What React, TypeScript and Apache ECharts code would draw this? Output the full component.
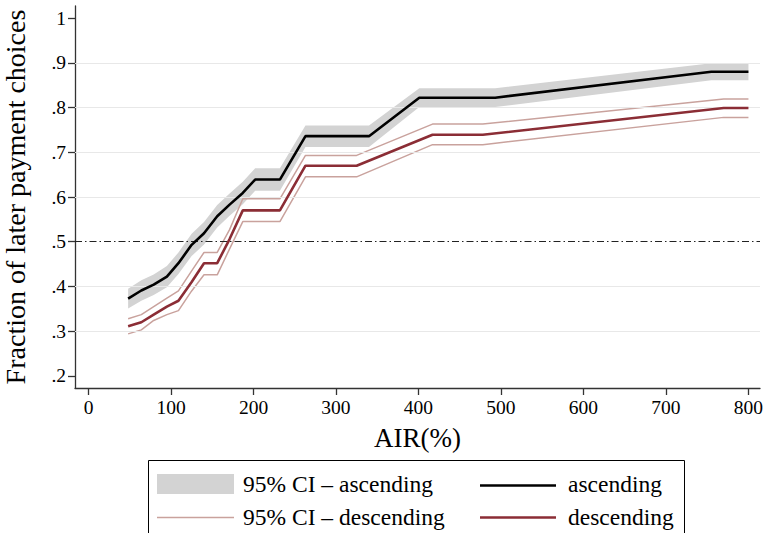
import React, { useEffect, useRef } from "react";
import * as echarts from "echarts";

// ---- data ----
const ascAIR = [48, 64, 79, 95, 109, 125, 140, 156, 171, 187, 202, 232, 263, 340, 401, 493, 755, 800];
const ascFrac = [0.373, 0.391, 0.404, 0.422, 0.452, 0.493, 0.519, 0.557, 0.583, 0.609, 0.639, 0.639, 0.736, 0.736, 0.822, 0.822, 0.880, 0.880];
const ascLow = [0.351, 0.368, 0.381, 0.398, 0.428, 0.468, 0.494, 0.532, 0.558, 0.584, 0.614, 0.614, 0.712, 0.712, 0.801, 0.801, 0.861, 0.861];
const ascHigh = [0.395, 0.414, 0.427, 0.446, 0.476, 0.518, 0.544, 0.582, 0.608, 0.634, 0.664, 0.664, 0.760, 0.760, 0.843, 0.843, 0.899, 0.899];

const descAIR = [48, 64, 79, 95, 109, 125, 140, 156, 171, 187, 202, 232, 263, 325, 417, 478, 770, 800];
const descFrac = [0.311, 0.320, 0.337, 0.355, 0.368, 0.410, 0.452, 0.452, 0.506, 0.570, 0.570, 0.570, 0.670, 0.670, 0.739, 0.739, 0.799, 0.799];
const descLow = [0.294, 0.303, 0.324, 0.337, 0.346, 0.390, 0.426, 0.426, 0.484, 0.545, 0.545, 0.545, 0.645, 0.645, 0.717, 0.717, 0.778, 0.778];
const descHigh = [0.328, 0.337, 0.355, 0.374, 0.390, 0.435, 0.476, 0.476, 0.527, 0.596, 0.596, 0.596, 0.693, 0.693, 0.763, 0.763, 0.819, 0.819];

const xTicks = [0, 100, 200, 300, 400, 500, 600, 700, 800];
const yTicks = [0.2, 0.3, 0.4, 0.5, 0.6, 0.7, 0.8, 0.9, 1];
const yTickLabels = [".2", ".3", ".4", ".5", ".6", ".7", ".8", ".9", "1"];
const yGrid = [0.3, 0.4, 0.6, 0.7, 0.8, 0.9];
const refLine = 0.5;

const legendLabels = ["95% CI \u2013 ascending", "ascending", "95% CI \u2013 descending", "descending"];

const SERIF = "'Liberation Serif', 'Times New Roman', serif";
const GRAY = "#d3d3d3";
const RED = "#8b2d35";
const PINK = "#c9a29d";

export default function App() {
  const ref = useRef<HTMLDivElement>(null);
  useEffect(() => {
    if (!ref.current) return;
    const chart = echarts.init(ref.current, null, { renderer: "svg" });
    const zip = (xs: number[], ys: number[]) => xs.map((x, i) => [x, ys[i]]);
    const option: any = {
      animation: false,
      backgroundColor: "#fff",
      textStyle: { fontFamily: SERIF },
      grid: { left: 75, top: 6, right: 4, bottom: 145, containLabel: false, outerBoundsMode: "none" },
      xAxis: {
        type: "value",
        min: -16.4,
        max: 814,
        name: "AIR(%)",
        nameLocation: "middle",
        nameGap: 36,
        nameTextStyle: { fontFamily: SERIF, fontSize: 27, color: "#000" },
        axisLine: { show: true, onZero: false, lineStyle: { color: "#333", width: 1.3 } },
        axisTick: { show: true, length: 7, lineStyle: { color: "#333", width: 1.3 }, customValues: xTicks },
        axisLabel: { customValues: xTicks, fontFamily: SERIF, fontSize: 19.5, color: "#000", margin: 9 },
        splitLine: { show: false },
      },
      yAxis: {
        type: "value",
        min: 0.173,
        max: 1.027,
        name: "Fraction of later payment choices",
        nameLocation: "middle",
        nameGap: 46,
        nameTextStyle: { fontFamily: SERIF, fontSize: 28, color: "#000" },
        axisLine: { show: true, onZero: false, lineStyle: { color: "#333", width: 1.3 } },
        axisTick: { show: true, length: 7, lineStyle: { color: "#333", width: 1.3 }, customValues: yTicks },
        axisLabel: {
          customValues: yTicks,
          fontFamily: SERIF,
          fontSize: 19.5,
          color: "#000",
          margin: 9,
          formatter: (v: number) => {
            const i = yTicks.findIndex((t) => Math.abs(t - v) < 1e-6);
            return i >= 0 ? yTickLabels[i] : "";
          },
        },
        splitLine: { show: false },
      },
      series: [
        {
          name: "grid",
          type: "line",
          data: [],
          z: 1,
          silent: true,
          markLine: {
            silent: true,
            symbol: "none",
            label: { show: false },
            lineStyle: { color: "#e8e8e8", width: 1.2, type: "solid" },
            data: yGrid.map((v) => ({ yAxis: v })),
          },
        },
        {
          name: "95% CI - ascending",
          type: "custom",
          z: 2,
          silent: true,
          data: ascAIR.map((x, i) => [x, ascLow[i], ascHigh[i]]),
          encode: { x: 0, y: [1, 2] },
          renderItem: (params: any, api: any) => {
            if (params.dataIndex !== 0) return null;
            const top = ascAIR.map((x, i) => api.coord([x, ascHigh[i]]));
            const bot = ascAIR.map((x, i) => api.coord([x, ascLow[i]])).reverse();
            return { type: "polygon", shape: { points: top.concat(bot) }, style: { fill: GRAY } };
          },
        },
        {
          name: "ref",
          type: "line",
          data: [],
          z: 3,
          silent: true,
          markLine: {
            silent: true,
            symbol: "none",
            label: { show: false },
            lineStyle: { color: "#222", width: 1, type: [7, 3, 1.5, 3] },
            data: [{ yAxis: refLine }],
          },
        },
        {
          name: "95% CI - descending (upper)",
          type: "line",
          data: zip(descAIR, descHigh),
          showSymbol: false,
          z: 4,
          lineStyle: { color: PINK, width: 1.5 },
        },
        {
          name: "95% CI - descending (lower)",
          type: "line",
          data: zip(descAIR, descLow),
          showSymbol: false,
          z: 4,
          lineStyle: { color: PINK, width: 1.5 },
        },
        {
          name: "descending",
          type: "line",
          data: zip(descAIR, descFrac),
          showSymbol: false,
          z: 5,
          lineStyle: { color: RED, width: 2.6 },
        },
        {
          name: "ascending",
          type: "line",
          data: zip(ascAIR, ascFrac),
          showSymbol: false,
          z: 6,
          lineStyle: { color: "#000", width: 2.6 },
        },
      ],
      graphic: [
        {
          type: "rect",
          shape: { x: 148.5, y: 460.5, width: 536, height: 90 },
          style: { fill: "#fff", stroke: "#000", lineWidth: 1 },
        },
        { type: "rect", shape: { x: 157, y: 474, width: 77, height: 20 }, style: { fill: GRAY } },
        {
          type: "text",
          x: 243,
          y: 484,
          style: { text: legendLabels[0], fontFamily: SERIF, fontSize: 23.5, fill: "#000", verticalAlign: "middle" },
        },
        { type: "line", shape: { x1: 480, y1: 485.5, x2: 556, y2: 485.5 }, style: { stroke: "#000", lineWidth: 2.6 } },
        {
          type: "text",
          x: 568,
          y: 484,
          style: { text: legendLabels[1], fontFamily: SERIF, fontSize: 23.5, fill: "#000", verticalAlign: "middle" },
        },
        { type: "line", shape: { x1: 157, y1: 517.5, x2: 234, y2: 517.5 }, style: { stroke: PINK, lineWidth: 1.5 } },
        {
          type: "text",
          x: 243,
          y: 517,
          style: { text: legendLabels[2], fontFamily: SERIF, fontSize: 23.5, fill: "#000", verticalAlign: "middle" },
        },
        { type: "line", shape: { x1: 480, y1: 517.5, x2: 556, y2: 517.5 }, style: { stroke: RED, lineWidth: 2.6 } },
        {
          type: "text",
          x: 568,
          y: 517,
          style: { text: legendLabels[3], fontFamily: SERIF, fontSize: 23.5, fill: "#000", verticalAlign: "middle" },
        },
      ],
    };
    chart.setOption(option);
    return () => chart.dispose();
  }, []);
  return (
    <div
      ref={ref}
      style={{ position: "fixed", left: 0, top: 0, width: 764, height: 533, background: "#fff" }}
    />
  );
}
